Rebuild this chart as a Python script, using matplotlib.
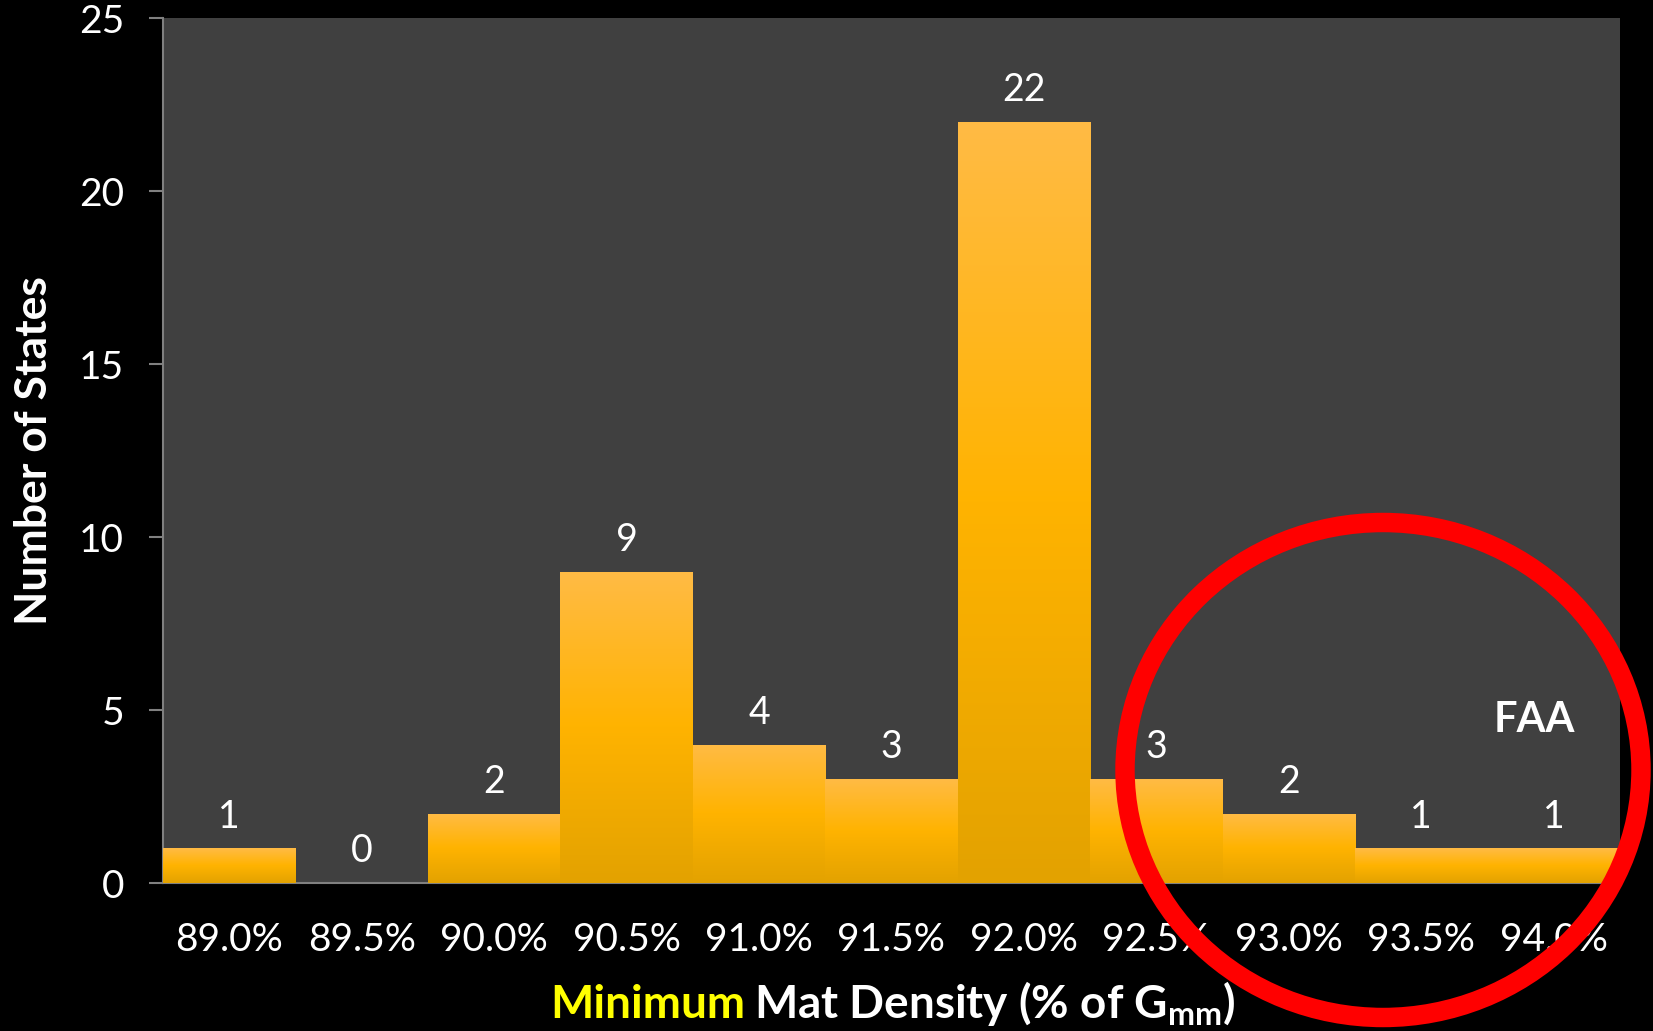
import numpy as np
import matplotlib.pyplot as plt
from matplotlib.patches import Ellipse
from matplotlib.colors import LinearSegmentedColormap

plt.rcParams['font.family'] = ['Lato', 'DejaVu Sans']

# minimum mat density requirement vs number of states
densities = ['89.0%', '89.5%', '90.0%', '90.5%', '91.0%', '91.5%',
             '92.0%', '92.5%', '93.0%', '93.5%', '94.0%']
states = [1, 0, 2, 9, 4, 3, 22, 3, 2, 1, 1]
yticks = [0, 5, 10, 15, 20, 25]

fig = plt.figure(figsize=(16.53, 10.31), dpi=100, facecolor='black')
ax = fig.add_axes([0.0986, 0.1435, 0.8814, 0.839])
ax.set_facecolor('#404040')

x = np.arange(len(densities))
bars = ax.bar(x, states, width=1.0, color='#FFB300', edgecolor='none', zorder=2)

# vertical orange gradient inside each bar
grad = LinearSegmentedColormap.from_list('bar', ['#E3A200', '#FFB300', '#FFBB45'])
g = np.linspace(0, 1, 256).reshape(-1, 1)
for b in bars:
    h = b.get_height()
    if h <= 0:
        continue
    x0 = b.get_x()
    im = ax.imshow(g, cmap=grad, aspect='auto', origin='lower',
                   extent=[x0, x0 + b.get_width(), 0, h], zorder=3)
    im.set_clip_path(b)

for xi, v in zip(x, states):
    ax.annotate(str(v), (xi, v), xytext=(0, 10), textcoords='offset points',
                ha='center', va='bottom', color='white', fontsize=27, zorder=4)

ax.set_xlim(-0.5, len(densities) - 0.5)
ax.set_ylim(0, 25)
ax.set_yticks(yticks)
ax.set_xticks(x)
ax.set_xticklabels(densities)
ax.tick_params(axis='y', colors='#808080', labelcolor='white', labelsize=28,
               length=10, width=1.5, pad=18)
ax.tick_params(axis='x', length=0, labelcolor='white', labelsize=28, pad=28)
for s in ['top', 'right']:
    ax.spines[s].set_visible(False)
for s in ['left', 'bottom']:
    ax.spines[s].set_color('#808080')
    ax.spines[s].set_linewidth(1.5)

ax.set_ylabel('Number of States', color='white', fontsize=32,
              fontweight='bold', labelpad=18)

# two-colour axis title
fig.text(0.451, 0.013, 'Minimum', color='#FFFF00', fontsize=33,
         fontweight='bold', ha='right', va='baseline')
fig.text(0.456, 0.013, r'Mat Density (% of G$_{\mathregular{mm}}$)', color='white',
         fontsize=33, fontweight='bold', ha='left', va='baseline')

ax.text(9.85, 4.7, 'FAA', color='white', fontsize=30, fontweight='bold',
        ha='center', va='center', zorder=5)

# highlight ring around the high-density end
ring = Ellipse((1383, 261), 516, 495, fill=False, edgecolor='#FF0000',
               linewidth=14, transform=None, zorder=10)
fig.patches.append(ring)

fig.savefig('out.png', dpi=100, facecolor='black')
